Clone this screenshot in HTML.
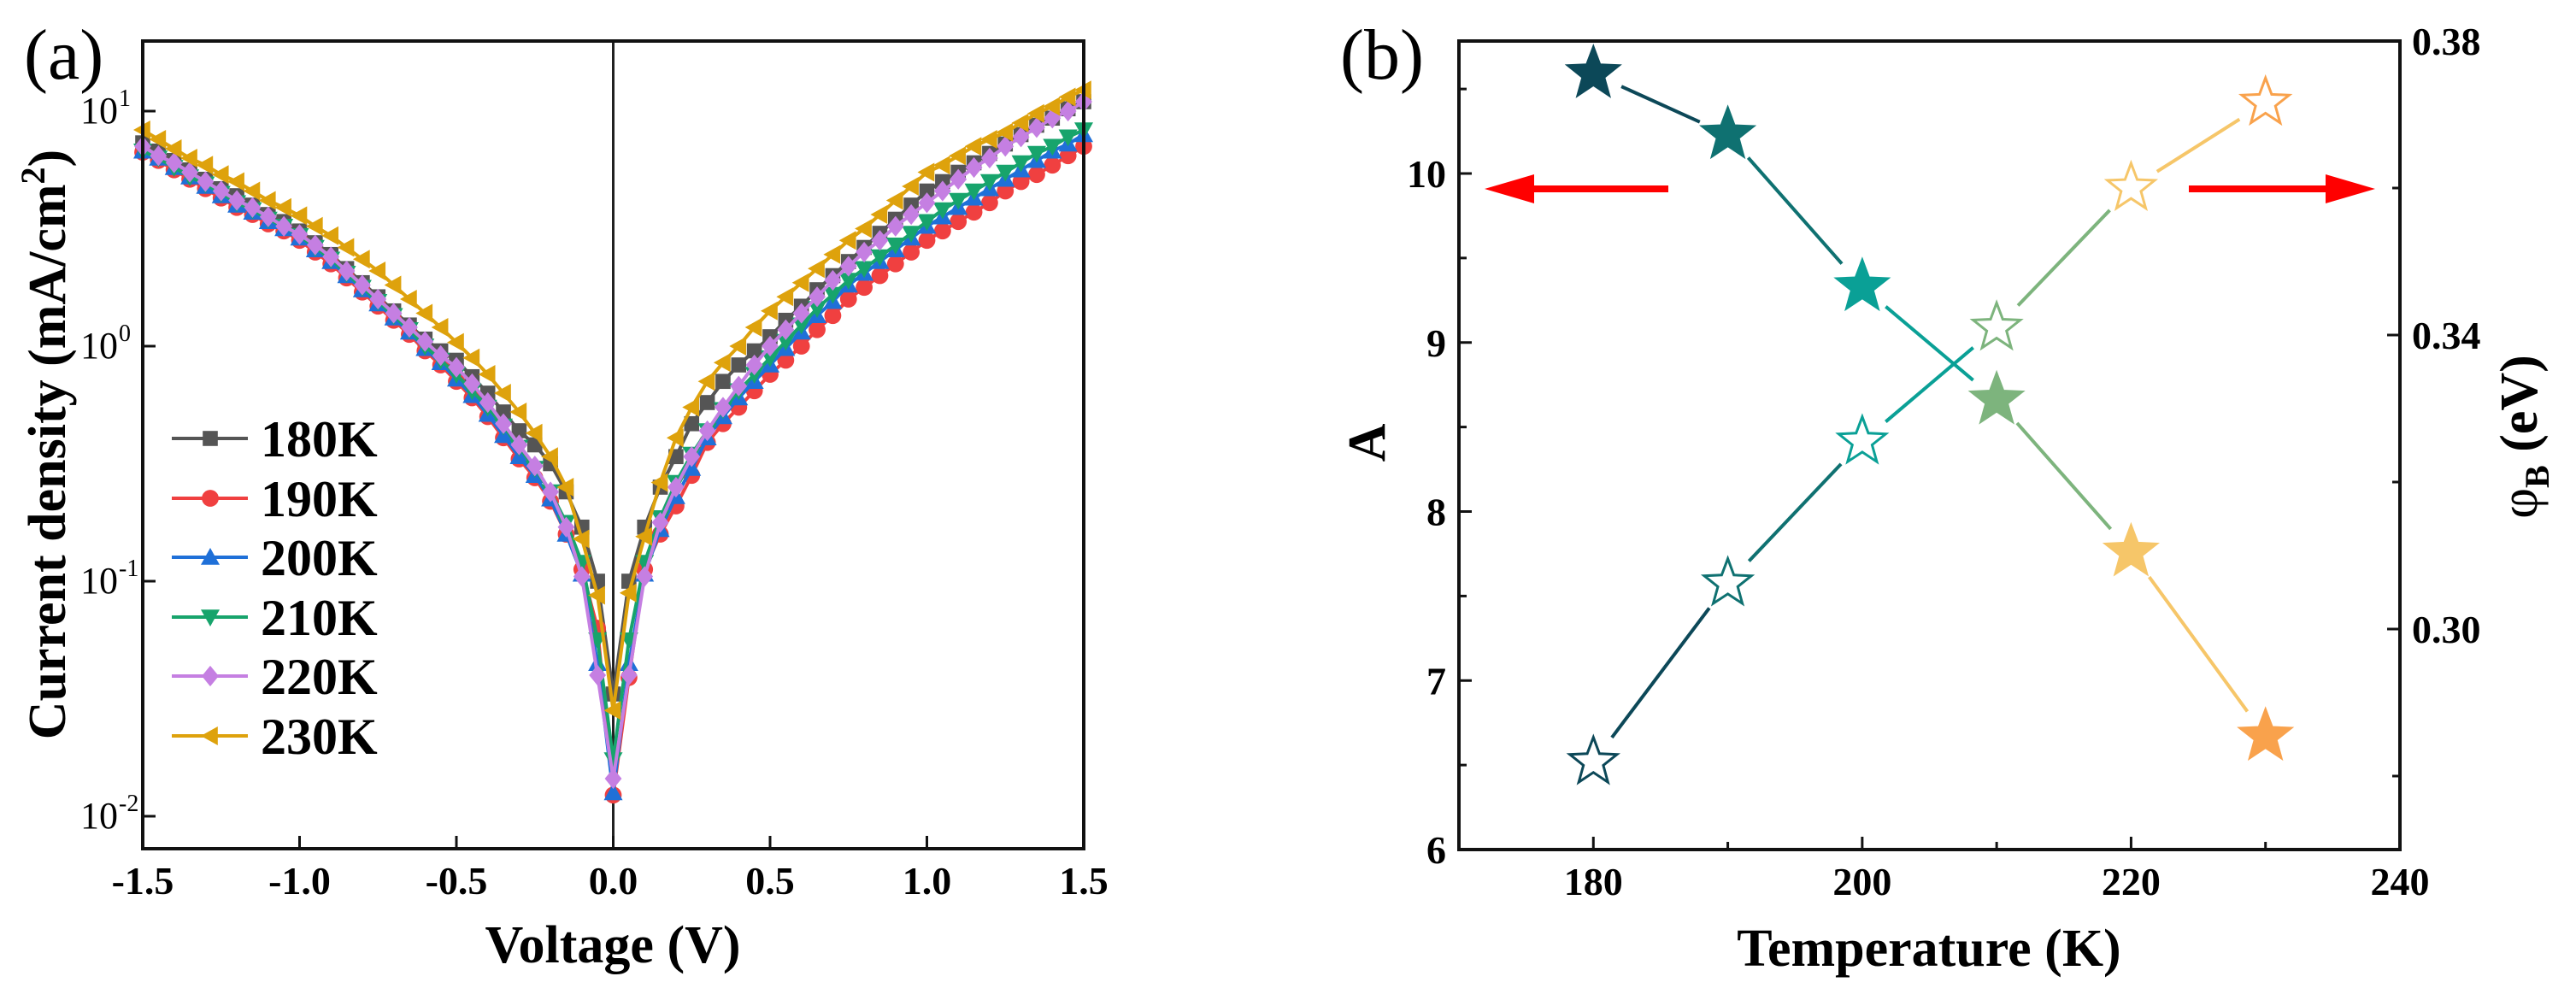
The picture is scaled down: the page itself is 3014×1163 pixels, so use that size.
<!DOCTYPE html>
<html><head><meta charset="utf-8"><style>
html,body{margin:0;padding:0;background:#fff;}
svg{display:block;font-family:"Liberation Serif",serif;}
</style></head><body>
<svg id="fig" width="3014" height="1163" viewBox="0 0 3014 1163" xmlns="http://www.w3.org/2000/svg">
<g id="pa"></g>
<g id="pb"></g>
</svg>
<script>
// ---------- Panel (a) data ----------
const voltages = [];
for (let i = -30; i <= 30; i++) voltages.push(i * 0.05);
const seriesNames = ["180K","190K","200K","210K","220K","230K"];
const log180 = [0.865,0.83,0.79,0.75,0.71,0.67,0.64,0.60,0.56,0.53,0.49,0.44,0.39,0.33,0.27,0.21,0.15,0.09,0.03,-0.02,-0.06,-0.13,-0.20,-0.28,-0.36,-0.42,-0.50,-0.62,-0.77,-1.0,-1.48,-1.0,-0.77,-0.60,-0.47,-0.33,-0.24,-0.15,-0.08,-0.02,0.04,0.11,0.17,0.24,0.30,0.36,0.42,0.48,0.54,0.60,0.66,0.70,0.74,0.78,0.82,0.86,0.90,0.94,0.97,1.01,1.04];
const log190 = [0.825,0.79,0.75,0.71,0.67,0.63,0.59,0.56,0.52,0.49,0.45,0.40,0.35,0.29,0.23,0.17,0.11,0.05,-0.02,-0.08,-0.15,-0.22,-0.30,-0.39,-0.48,-0.56,-0.66,-0.80,-0.95,-1.2,-1.91,-1.41,-0.95,-0.80,-0.68,-0.55,-0.41,-0.33,-0.26,-0.19,-0.12,-0.06,0.0,0.07,0.13,0.20,0.25,0.30,0.35,0.40,0.45,0.49,0.53,0.57,0.61,0.66,0.70,0.73,0.77,0.81,0.85];
const log200 = [0.83,0.80,0.76,0.72,0.68,0.64,0.60,0.57,0.53,0.50,0.46,0.41,0.36,0.30,0.24,0.18,0.12,0.06,-0.01,-0.07,-0.14,-0.21,-0.29,-0.38,-0.47,-0.55,-0.65,-0.80,-0.97,-1.35,-1.90,-1.35,-0.97,-0.78,-0.64,-0.52,-0.39,-0.30,-0.22,-0.15,-0.08,-0.01,0.06,0.13,0.19,0.26,0.31,0.36,0.41,0.46,0.51,0.55,0.59,0.63,0.67,0.71,0.75,0.79,0.83,0.86,0.90];
const log210 = [0.83,0.80,0.76,0.72,0.69,0.65,0.61,0.58,0.54,0.51,0.47,0.42,0.37,0.31,0.25,0.19,0.13,0.07,0.0,-0.06,-0.12,-0.19,-0.26,-0.34,-0.43,-0.52,-0.62,-0.75,-0.92,-1.25,-1.76,-1.25,-0.92,-0.73,-0.58,-0.46,-0.36,-0.27,-0.19,-0.12,-0.05,0.02,0.09,0.16,0.22,0.28,0.33,0.38,0.43,0.48,0.53,0.58,0.62,0.66,0.70,0.74,0.78,0.82,0.85,0.89,0.92];
const log220 = [0.85,0.81,0.78,0.74,0.70,0.66,0.62,0.59,0.55,0.51,0.475,0.43,0.38,0.32,0.26,0.20,0.14,0.08,0.02,-0.04,-0.09,-0.16,-0.24,-0.33,-0.42,-0.51,-0.62,-0.77,-0.98,-1.40,-1.84,-1.40,-0.98,-0.75,-0.60,-0.47,-0.36,-0.26,-0.17,-0.08,0.0,0.07,0.14,0.21,0.28,0.34,0.40,0.45,0.51,0.56,0.61,0.66,0.71,0.76,0.80,0.85,0.89,0.93,0.97,1.00,1.04];
const log230 = [0.92,0.88,0.84,0.80,0.77,0.73,0.70,0.66,0.62,0.59,0.555,0.51,0.47,0.42,0.37,0.32,0.26,0.20,0.14,0.08,0.016,-0.05,-0.12,-0.20,-0.28,-0.37,-0.47,-0.60,-0.82,-1.06,-1.55,-1.05,-0.81,-0.58,-0.39,-0.26,-0.15,-0.07,0.0,0.08,0.15,0.21,0.27,0.33,0.39,0.45,0.50,0.56,0.62,0.68,0.74,0.77,0.81,0.85,0.88,0.91,0.95,0.99,1.02,1.06,1.09];
const xTicksA = [-1.5,-1.0,-0.5,0.0,0.5,1.0,1.5];
const yTickExpA = [1,0,-1,-2];

// ---------- Panel (b) data ----------
const temps = [180,190,200,210,220,230];
const aValues = [10.59,10.23,9.33,8.66,7.76,6.67];
const phiValues = [0.2819,0.3062,0.3255,0.3410,0.3600,0.3716];
const xTicksB = [180,200,220,240];
const yTicksB = [6,7,8,9,10];
const yTicksR = [0.30,0.34,0.38];

const NS = "http://www.w3.org/2000/svg";
function mk(parent, tag, attrs, text) {
  const e = document.createElementNS(NS, tag);
  for (const k in attrs) e.setAttribute(k, attrs[k]);
  if (text !== undefined) e.textContent = text;
  parent.appendChild(e);
  return e;
}
const pa = document.getElementById("pa");
const pb = document.getElementById("pb");

// ===== Panel A =====
const AL = 167, AR = 1268, AT = 48, AB = 993;
const xA = v => AL + (v + 1.5) / 3 * (AR - AL);
const yA = lg => 130 + (1 - lg) * 275;

let t = mk(pa, "text", {x: 28, y: 92, "font-size": 84}, "(a)");



let zl = mk(pa, "line", {x1: xA(0), y1: AT, x2: xA(0), y2: AB, stroke: "#222", "stroke-width": 3});



const colorsA = ["#555555","#f04040","#1f70d8","#17a46c","#c57fe2","#dea20c"];
const dataA = [log180, log190, log200, log210, log220, log230];
function marker(g, k, x, y, c) {
  const s = 11;
  let m;
  if (k === 0) m = mk(g, "rect", {x: x - s*0.8, y: y - s*0.8, width: s*1.6, height: s*1.6, fill: c});
  else if (k === 1) m = mk(g, "circle", {cx: x, cy: y, r: s*0.9, fill: c});
  else if (k === 2) m = mk(g, "polygon", {points: `${x},${y-s} ${x+s},${y+s*0.8} ${x-s},${y+s*0.8}`, fill: c});
  else if (k === 3) m = mk(g, "polygon", {points: `${x},${y+s} ${x+s},${y-s*0.8} ${x-s},${y-s*0.8}`, fill: c});
  else if (k === 4) m = mk(g, "polygon", {points: `${x},${y-s*1.1} ${x+s*0.9},${y} ${x},${y+s*1.1} ${x-s*0.9},${y}`, fill: c});
  else m = mk(g, "polygon", {points: `${x-s},${y} ${x+s*0.8},${y-s} ${x+s*0.8},${y+s}`, fill: c});
  return m;
}
for (let k = 0; k < 6; k++) {
  const g = mk(pa, "g", {});
  
  
  const pts = voltages.map((v, i) => xA(v).toFixed(1) + "," + yA(dataA[k][i]).toFixed(1)).join(" ");
  const pl = mk(g, "polyline", {points: pts, fill: "none", stroke: colorsA[k], "stroke-width": 4});
  
  
  voltages.forEach((v, i) => {
    const m = marker(g, k, xA(v), yA(dataA[k][i]), colorsA[k]);
    
    
  });
}
// frame
let fa = mk(pa, "rect", {x: AL, y: AT, width: AR - AL, height: AB - AT, fill: "none", stroke: "#111", "stroke-width": 4});


// x ticks
xTicksA.forEach(v => {
  const tk = mk(pa, "line", {x1: xA(v), y1: AB, x2: xA(v), y2: AB - 15, stroke: "#111", "stroke-width": 3});
  
  
  const lb = mk(pa, "text", {x: xA(v), y: 1046, "font-size": 46, "font-weight": "bold", "text-anchor": "middle"}, v.toFixed(1));
  
  
});
yTickExpA.forEach(e => {
  const tk = mk(pa, "line", {x1: AL, y1: yA(e), x2: AL + 15, y2: yA(e), stroke: "#111", "stroke-width": 3});
  
  
  const lb = mk(pa, "text", {x: 138, y: yA(e) + 14, "font-size": 44, "text-anchor": "end"}, "10");
  
  
  const sp = mk(pa, "text", {x: 139, y: yA(e) - 6, "font-size": 28}, String(e));
  
  
});
let xt = mk(pa, "text", {x: 717, y: 1126, "font-size": 62, "font-weight": "bold", "text-anchor": "middle"}, "Voltage (V)");


let yt = mk(pa, "text", {x: 0, y: 0, "font-size": 62, "font-weight": "bold", "text-anchor": "middle", transform: "translate(76,520) rotate(-90)"});


mk(yt, "tspan", {}, "Current density (mA/cm");
mk(yt, "tspan", {dy: -24, "font-size": 40}, "2");
mk(yt, "tspan", {dy: 24}, ")");
// legend
const legY = [513, 583, 652, 722, 791, 861];
for (let k = 0; k < 6; k++) {
  const g = mk(pa, "g", {});
  
  
  mk(g, "line", {x1: 201, y1: legY[k], x2: 290, y2: legY[k], stroke: colorsA[k], "stroke-width": 4});
  marker(g, k, 246, legY[k], colorsA[k]);
  mk(g, "text", {x: 305, y: legY[k] + 21, "font-size": 60, "font-weight": "bold"}, seriesNames[k]);
}

// ===== Panel B =====
const BL = 1707, BR = 2808, BT = 48, BB = 994;
const xB = T => BL + (T - 170) / 70 * (BR - BL);
const yB = a => BB - (a - 6) * 197.75;
const yR = p => BB - (p - 0.27) / 0.11 * (BB - BT);

let tb = mk(pb, "text", {x: 1568, y: 92, "font-size": 84}, "(b)");



const starCols = ["#0c4858","#0f7171","#0aa096","#7db47d","#f6c669","#f9a24c"];
function star(cx, cy, R, fill, stroke) {
  const r = R * 0.42;
  let p = [];
  for (let i = 0; i < 10; i++) {
    const ang = -Math.PI / 2 + i * Math.PI / 5;
    const rr = i % 2 ? r : R;
    p.push((cx + rr * Math.cos(ang)).toFixed(1) + "," + (cy + rr * Math.sin(ang)).toFixed(1));
  }
  return mk(pb, "polygon", {points: p.join(" "), fill: fill, stroke: stroke, "stroke-width": 3});
}
function segs(vals, ymap, name) {
  for (let i = 0; i < temps.length - 1; i++) {
    const x1 = xB(temps[i]), y1 = ymap(vals[i]), x2 = xB(temps[i+1]), y2 = ymap(vals[i+1]);
    const d = Math.hypot(x2 - x1, y2 - y1), ux = (x2 - x1) / d, uy = (y2 - y1) / d, gap = 36;
    const s = mk(pb, "line", {x1: x1 + ux*gap, y1: y1 + uy*gap, x2: x2 - ux*gap, y2: y2 - uy*gap, stroke: starCols[i], "stroke-width": 4});
    
    
  }
}
segs(aValues, yB, "a-line");
segs(phiValues, yR, "phi-line");
temps.forEach((T, i) => {
  const s1 = star(xB(T), yB(aValues[i]), 31, starCols[i], starCols[i]);
  
  
  const s2 = star(xB(T), yR(phiValues[i]), 29, "#fff", starCols[i]);
  
  
});
let fb = mk(pb, "rect", {x: BL, y: BT, width: BR - BL, height: BB - BT, fill: "none", stroke: "#111", "stroke-width": 4});


// x ticks
for (let T = 180; T <= 230; T += 10) {
  const tk = mk(pb, "line", {x1: xB(T), y1: BB, x2: xB(T), y2: BB - (T % 20 === 0 ? 15 : 9), stroke: "#111", "stroke-width": 3});
  
  
}
xTicksB.forEach(T => {
  const lb = mk(pb, "text", {x: xB(T), y: 1047, "font-size": 46, "font-weight": "bold", "text-anchor": "middle"}, String(T));
  
  
});
for (let a = 6.5; a < 10.8; a += 1) {
  const tk = mk(pb, "line", {x1: BL, y1: yB(a), x2: BL + 9, y2: yB(a), stroke: "#111", "stroke-width": 3});
  
  
}
yTicksB.forEach(a => {
  const tk = mk(pb, "line", {x1: BL, y1: yB(a), x2: BL + 15, y2: yB(a), stroke: "#111", "stroke-width": 3});
  
  
  const lb = mk(pb, "text", {x: 1692, y: yB(a) + 16, "font-size": 46, "font-weight": "bold", "text-anchor": "end"}, String(a));
  
  
});
[0.28, 0.32, 0.36].forEach(p => {
  const tk = mk(pb, "line", {x1: BR, y1: yR(p), x2: BR - 9, y2: yR(p), stroke: "#111", "stroke-width": 3});
  
  
});
yTicksR.forEach(p => {
  const tk = mk(pb, "line", {x1: BR, y1: yR(p), x2: BR - 15, y2: yR(p), stroke: "#111", "stroke-width": 3});
  
  
  const lb = mk(pb, "text", {x: 2822, y: yR(p) + 16, "font-size": 46, "font-weight": "bold"}, p.toFixed(2));
  
  
});
let xtb = mk(pb, "text", {x: 2257, y: 1130, "font-size": 62, "font-weight": "bold", "text-anchor": "middle"}, "Temperature (K)");


let ytb = mk(pb, "text", {x: 0, y: 0, "font-size": 62, "font-weight": "bold", "text-anchor": "middle", transform: "translate(1620,518) rotate(-90)"}, "A");


let ytr = mk(pb, "text", {x: 0, y: 0, "font-size": 62, "font-weight": "bold", "text-anchor": "middle", transform: "translate(2968,511) rotate(-90)"});


mk(ytr, "tspan", {"font-weight": "normal"}, "φ");
mk(ytr, "tspan", {dy: 14, "font-size": 40}, "B");
mk(ytr, "tspan", {dy: -14}, " (eV)");
// arrows
let arL = mk(pb, "g", {});


mk(arL, "line", {x1: 1952, y1: 221, x2: 1790, y2: 221, stroke: "#f00", "stroke-width": 8});
mk(arL, "polygon", {points: "1737,221 1795,204 1795,238", fill: "#f00"});
let arR = mk(pb, "g", {});


mk(arR, "line", {x1: 2561, y1: 221, x2: 2725, y2: 221, stroke: "#f00", "stroke-width": 8});
mk(arR, "polygon", {points: "2779,221 2721,204 2721,238", fill: "#f00"});
</script>
</body></html>
